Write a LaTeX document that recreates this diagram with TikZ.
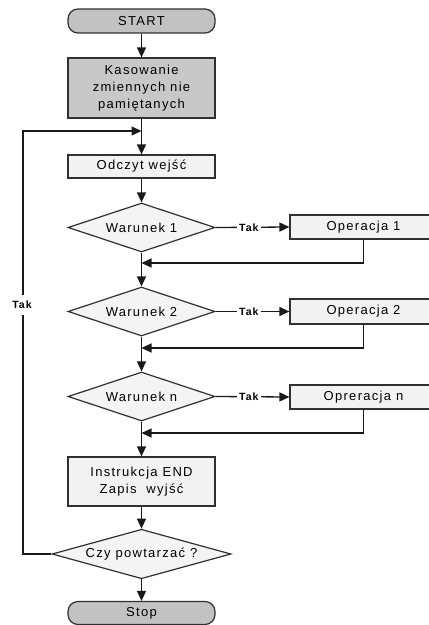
\documentclass[tikz,border=0pt]{standalone}
\usepackage{fontspec}
\setmainfont{Liberation Sans}[LetterSpace=10]
\usetikzlibrary{shapes.geometric,arrows.meta}
\definecolor{edge}{HTML}{303030}
\definecolor{termfill}{HTML}{C2C2C2}
\definecolor{darkfill}{HTML}{C8C8C8}
\definecolor{lightfill}{HTML}{F2F2F2}
\definecolor{decfill}{HTML}{F4F4F4}
\begin{document}
\begin{tikzpicture}[x=1pt,y=-1pt,
  base/.style={draw=edge,line width=1.2pt,inner sep=0pt,align=center,
    font=\fontsize{13}{17}\selectfont,text=black},
  terminal/.style={base,rectangle,rounded corners=10pt,fill=termfill,
    minimum width=147pt,minimum height=24pt},
  graybox/.style={base,rectangle,fill=darkfill,minimum width=147pt},
  lightbox/.style={base,rectangle,fill=lightfill,minimum width=147pt},
  decision/.style={base,diamond,aspect=3,fill=decfill,
    minimum width=147pt,minimum height=49pt},
  flow/.style={draw=black!90,line width=1.3pt,
    -{Triangle[length=10pt,width=9pt]}},
  yes/.style={fill=white,inner xsep=2pt,inner ysep=1pt,
    font=\bfseries\fontsize{10.5}{12}\selectfont}]
\useasboundingbox (0,0) rectangle (429,625);

% main column
\node[terminal] (start) at (141.5,21) {START};
\node[graybox,minimum height=60pt] (kas) at (141.5,88)
  {Kasowanie\\zmiennych nie\\pamiętanych};
\node[lightbox,minimum height=23pt] (odczyt) at (141.5,166.5) {Odczyt wejść};
\node[decision] (w1) at (141.5,227.5) {Warunek 1};
\node[decision] (w2) at (141.5,311.5) {Warunek 2};
\node[decision] (wn) at (141.5,396.5) {Warunek n};
\node[lightbox,minimum height=49pt] (end) at (141.5,481.5)
  {Instrukcja END\\Zapis\ \ wyjść};
\node[decision,minimum width=179pt,minimum height=48pt] (czy) at (141.5,554)
  {Czy powtarzać ?};
\node[terminal,minimum height=23pt] (stop) at (141.5,613) {Stop};

% operations on the right
\node[lightbox,minimum height=24pt] (op1) at (363.5,227) {Operacja 1};
\node[lightbox,minimum height=25pt] (op2) at (363.5,311.5) {Operacja 2};
\node[lightbox,minimum height=24pt] (opn) at (363.5,397) {Opreracja n};

% junction points on the main line
\coordinate (loopin) at (141.5,131);
\coordinate (j1) at (141.5,263);
\coordinate (j2) at (141.5,348);
\coordinate (jn) at (141.5,433);
\coordinate (loopx) at (23,131);

% vertical flow
\draw[flow] (start) -- (kas);
\draw[flow] (kas) -- (odczyt);
\draw[flow] (odczyt) -- (w1);
\draw[flow] (w1) -- (w2);
\draw[flow] (w2) -- (wn);
\draw[flow] (wn) -- (end);
\draw[flow] (end) -- (czy);
\draw[flow] (czy) -- (stop);

% branches to the operations
\draw[flow] (w1.east) -- node[yes,pos=0.45] {Tak} (op1.west);
\draw[flow] (w2.east) -- node[yes,pos=0.45] {Tak} (op2.west);
\draw[flow] (wn.east) -- node[yes,pos=0.45] {Tak} (opn.west);

% returns from the operations
\draw[flow] (op1.south) |- (j1);
\draw[flow] (op2.south) |- (j2);
\draw[flow] (opn.south) |- (jn);

% repeat loop
\draw[flow] (czy.west) -| (loopx) -- (loopin);
\node[yes,inner ysep=6pt,inner xsep=0pt] (loopyes) at (22,305) {Tak};
\end{tikzpicture}
\end{document}
